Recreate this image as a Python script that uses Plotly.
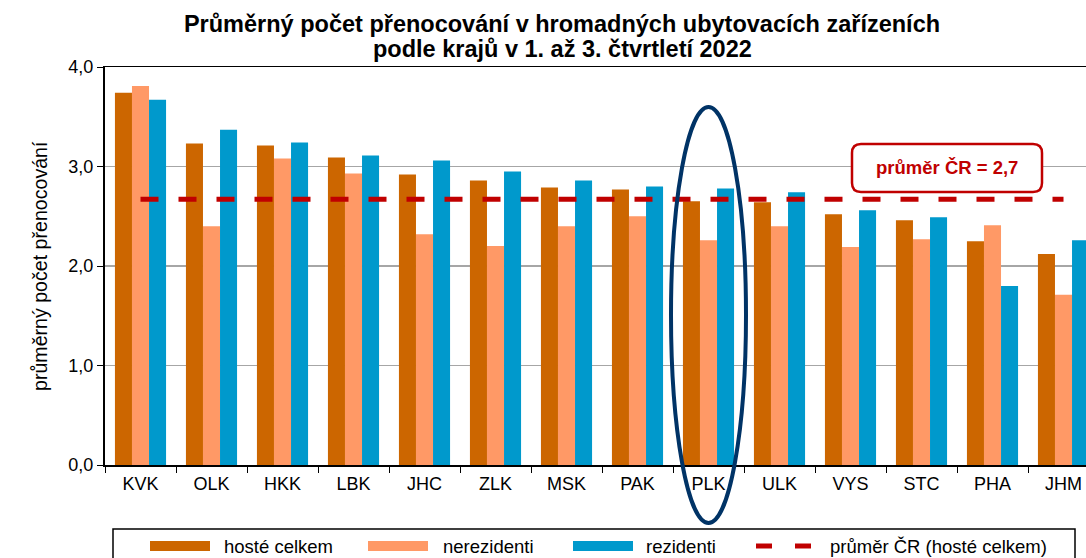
import plotly.graph_objects as go

# ---------------- data ----------------
kraje = ["KVK", "OLK", "HKK", "LBK", "JHC", "ZLK", "MSK", "PAK", "PLK", "ULK", "VYS", "STC", "PHA", "JHM"]
hoste_celkem = [3.74, 3.23, 3.21, 3.09, 2.92, 2.86, 2.79, 2.77, 2.65, 2.64, 2.52, 2.46, 2.25, 2.12]
nerezidenti = [3.81, 2.40, 3.08, 2.93, 2.32, 2.20, 2.40, 2.50, 2.26, 2.40, 2.19, 2.27, 2.41, 1.71]
rezidenti = [3.67, 3.37, 3.24, 3.11, 3.06, 2.95, 2.86, 2.80, 2.78, 2.74, 2.56, 2.49, 1.80, 2.26]
prumer_cr = 2.67
prumer_text = "průměr ČR = 2,7"
series_names = ["hosté celkem", "nerezidenti", "rezidenti", "průměr ČR (hosté celkem)"]
title_lines = ["Průměrný počet přenocování v hromadných ubytovacích zařízeních",
               "podle krajů v 1. až 3. čtvrtletí 2022"]
y_title = "průměrný počet přenocování"
y_ticks = [0, 1, 2, 3, 4]
highlight = "PLK"

# ---------------- style ----------------
C_HOSTE = "#CC6600"
C_NEREZ = "#FF9966"
C_REZ = "#0099CC"
C_AVG = "#C00000"
C_ELL = "#003366"
FONT = "Arial, Liberation Sans, sans-serif"

W, H = 1086, 558
OFF = 0                          # body margin removed below: screen = figure
S_L, S_T, S_B = 105, 67, 465     # plot left, top, bottom on screen
L, T, PB = S_L - OFF, S_T - OFF, S_B - OFF   # figure coords
PR = W
PW, PH = PR - L, PB - T
CAT_W = 71.0                     # px per category


def px(xs):                      # screen x -> paper
    return (xs - OFF - L) / PW


def py(ys):                      # screen y -> paper
    return (PB - (ys - OFF)) / PH


fig = go.Figure()
for name, vals, col in [(series_names[0], hoste_celkem, C_HOSTE),
                        (series_names[1], nerezidenti, C_NEREZ),
                        (series_names[2], rezidenti, C_REZ)]:
    fig.add_trace(go.Bar(x=kraje, y=vals, name=name, marker_color=col,
                         marker_line_width=0, showlegend=False))

fig.add_trace(go.Scatter(x=kraje, y=[prumer_cr] * len(kraje), mode="lines",
                         name=series_names[3], showlegend=False,
                         line=dict(color=C_AVG, width=5, dash="18px,20px")))

shapes = []
annotations = []

# highlight ellipse around PLK
i_h = kraje.index(highlight)
cx = S_L + (i_h + 0.5) * CAT_W
shapes.append(dict(type="circle", xref="paper", yref="paper",
                   x0=px(cx - 37.5), x1=px(cx + 37.5), y0=py(523), y1=py(107),
                   line=dict(color=C_ELL, width=4), layer="above"))

# rounded label box
bx0, bx1, by0, by1, r = 852, 1042, 144, 192, 9
rx, ry = r / PW, r / PH
X0, X1, Y0, Y1 = px(bx0), px(bx1), py(by1), py(by0)
path = (f"M {X0+rx},{Y0} L {X1-rx},{Y0} Q {X1},{Y0} {X1},{Y0+ry} "
        f"L {X1},{Y1-ry} Q {X1},{Y1} {X1-rx},{Y1} L {X0+rx},{Y1} "
        f"Q {X0},{Y1} {X0},{Y1-ry} L {X0},{Y0+ry} Q {X0},{Y0} {X0+rx},{Y0} Z")
shapes.append(dict(type="path", xref="paper", yref="paper", path=path,
                   fillcolor="white", line=dict(color=C_AVG, width=2.5), layer="above"))
annotations.append(dict(xref="paper", yref="paper", x=(X0 + X1) / 2, y=(Y0 + Y1) / 2,
                        text=f"<b>{prumer_text}</b>", showarrow=False,
                        font=dict(family=FONT, size=18.5, color=C_AVG),
                        xanchor="center", yanchor="middle"))

# second title line
annotations.append(dict(xref="paper", yref="paper", x=px(562), y=py(49),
                        text=f"<b>{title_lines[1]}</b>", showarrow=False,
                        xanchor="center", yanchor="middle",
                        font=dict(family=FONT, size=23.5, color="black")))

# y-axis title
annotations.append(dict(xref="paper", yref="paper", x=px(40), y=py(266),
                        text=y_title, showarrow=False, textangle=-90,
                        xanchor="center", yanchor="middle",
                        font=dict(family=FONT, size=19.6, color="black")))

# custom legend
shapes.append(dict(type="rect", xref="paper", yref="paper",
                   x0=px(113), x1=px(1075), y0=py(529), y1=py(580),
                   line=dict(color="black", width=1.5), fillcolor="rgba(0,0,0,0)"))
leg_y = 546
sw = [(150, C_HOSTE, 222), (368, C_NEREZ, 441), (573, C_REZ, 644)]
for (x0, col, tx), name in zip(sw, series_names[:3]):
    shapes.append(dict(type="rect", xref="paper", yref="paper",
                       x0=px(x0), x1=px(x0 + 60), y0=py(leg_y + 5), y1=py(leg_y - 5),
                       fillcolor=col, line=dict(width=0)))
    annotations.append(dict(xref="paper", yref="paper", x=px(tx), y=py(leg_y), text=name,
                            showarrow=False, xanchor="left", yanchor="middle",
                            font=dict(family=FONT, size=18.5, color="black")))
for d0 in (756, 795):
    shapes.append(dict(type="line", xref="paper", yref="paper",
                       x0=px(d0), x1=px(d0 + 16), y0=py(leg_y), y1=py(leg_y),
                       line=dict(color=C_AVG, width=5)))
annotations.append(dict(xref="paper", yref="paper", x=px(828), y=py(leg_y), text=series_names[3],
                        showarrow=False, xanchor="left", yanchor="middle",
                        font=dict(family=FONT, size=18.5, color="black")))

fig.update_layout(
    width=W, height=H,
    margin=dict(l=L, r=W - PR, t=T, b=H - PB),
    paper_bgcolor="white", plot_bgcolor="white",
    barmode="group", bargap=0.28, bargroupgap=0,
    separators=", ",
    font=dict(family=FONT, size=18, color="black"),
    title=dict(text=f"<b>{title_lines[0]}</b>",
               x=(562 - OFF) / W, xref="container", xanchor="center",
               y=1 - (24 - OFF) / H, yref="container", yanchor="middle",
               font=dict(family=FONT, size=23.5, color="black")),
    shapes=shapes,
    annotations=annotations,
    showlegend=False,
)
fig.update_xaxes(type="category", range=[-0.5, PW / CAT_W - 0.5],
                 showline=True, linecolor="black", linewidth=1.5, mirror=True,
                 ticks="outside", tickson="boundaries", ticklen=6, tickcolor="black",
                 ticklabelstandoff=2,
                 tickfont=dict(family=FONT, size=18), showgrid=False)
fig.update_yaxes(range=[0, 4], tickvals=y_ticks, tickformat=".1f",
                 showline=True, linecolor="black", linewidth=2,
                 ticks="outside", ticklen=6, tickcolor="black",
                 tickfont=dict(family=FONT, size=18),
                 showgrid=True, gridcolor="#A6A6A6", gridwidth=1.5, zeroline=False)

fig.write_html("out.html", default_width=f"{W}px", default_height=f"{H}px",
               config={"displayModeBar": False, "staticPlot": True},
               post_script="document.body.style.margin='0';"
                           "document.documentElement.style.overflow='hidden';")
